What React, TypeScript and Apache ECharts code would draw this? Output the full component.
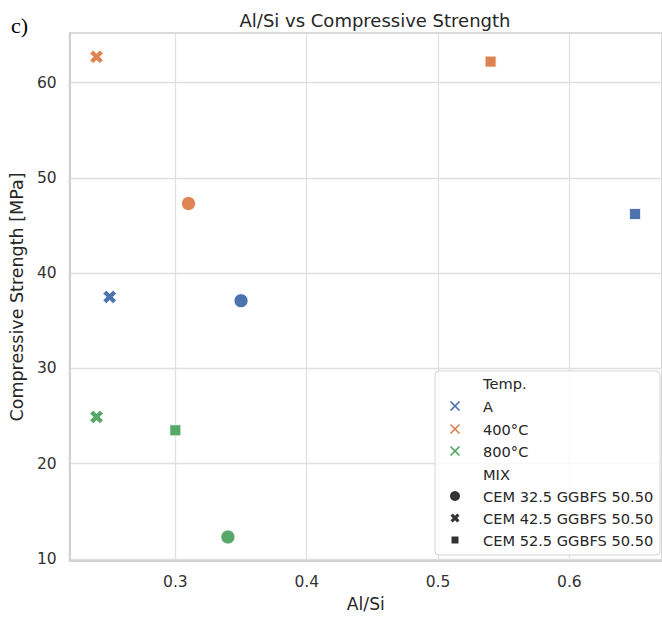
import React, { useEffect, useRef } from 'react';
import * as echarts from 'echarts';

// ---- data ----
const temps = ['A', '400°C', '800°C'];
const mixes = ['CEM 32.5 GGBFS 50.50', 'CEM 42.5 GGBFS 50.50', 'CEM 52.5 GGBFS 50.50'];
// order of values follows mixes
const alSiA = [0.35, 0.25, 0.65];
const strengthA = [37.1, 37.5, 46.2];
const alSi400 = [0.31, 0.24, 0.54];
const strength400 = [47.3, 62.7, 62.2];
const alSi800 = [0.34, 0.24, 0.3];
const strength800 = [12.3, 24.9, 23.5];

const xTicks = [0.3, 0.4, 0.5, 0.6];
const yTicks = [10, 20, 30, 40, 50, 60];

const colors = ['#4C72B0', '#DD8452', '#55A868'];
const FONT = 'DejaVu Sans';
const xPathStr = 'M3,0L4,1L3,2L4,3L3,4L2,3L1,4L0,3L1,2L0,1L1,0L2,1Z';
const mixSymbols = ['circle', 'path://' + xPathStr, 'rect'];
const mixSizes = [14, 13.5, 11];

const xBase = [
  [3, 0], [4, 1], [3, 2], [4, 3], [3, 4], [2, 3], [1, 4], [0, 3], [1, 2], [0, 1], [1, 0], [2, 1],
];

export default function App() {
  const ref = useRef<HTMLDivElement>(null);
  useEffect(() => {
    if (!ref.current) return;
    const chart = echarts.init(ref.current, undefined, { renderer: 'svg' });
    const xs = [alSiA, alSi400, alSi800];
    const ys = [strengthA, strength400, strength800];
    const series = temps.map((t, ti) => ({
      type: 'scatter',
      name: t,
      data: mixes.map((m, mi) => ({
        value: [xs[ti][mi], ys[ti][mi]],
        symbol: mixSymbols[mi],
        symbolSize: mixSizes[mi],
      })),
      itemStyle: { color: colors[ti], borderColor: '#ffffff', borderWidth: 0.8, opacity: 1 },
      z: 5,
    }));

    // legend graphic
    const lx = 455;
    const tx = 483;
    const rowY = [383, 406, 429, 451, 474, 496, 518, 540];
    const textStyle = (s: string, y: number) => ({
      type: 'text',
      x: tx,
      y,
      style: { text: s, fontFamily: FONT, fontSize: 14.6, fill: '#262626', verticalAlign: 'middle', align: 'left' },
      z: 11,
    });
    const g: any[] = [
      {
        type: 'rect',
        shape: { x: 435, y: 371, width: 225, height: 184, r: 4 },
        style: { fill: 'rgba(255,255,255,0.8)', stroke: '#d4d4d4', lineWidth: 1 },
        z: 10,
      },
      textStyle('Temp.', rowY[0]),
      textStyle('MIX', rowY[4]),
    ];
    temps.forEach((t, i) => {
      const y = rowY[1 + i];
      const h = 4.5;
      g.push({ type: 'line', shape: { x1: lx - h, y1: y - h, x2: lx + h, y2: y + h }, style: { stroke: colors[i], lineWidth: 1.7 }, z: 11 });
      g.push({ type: 'line', shape: { x1: lx - h, y1: y + h, x2: lx + h, y2: y - h }, style: { stroke: colors[i], lineWidth: 1.7 }, z: 11 });
      g.push(textStyle(t, y));
    });
    mixes.forEach((m, i) => {
      const y = rowY[5 + i];
      if (i === 0) {
        g.push({ type: 'circle', shape: { cx: lx, cy: y, r: 5 }, style: { fill: '#333333' }, z: 11 });
      } else if (i === 1) {
        const s = 9 / 4;
        g.push({
          type: 'polygon',
          shape: { points: xBase.map(([px, py]) => [lx + (px - 2) * s, y + (py - 2) * s]) },
          style: { fill: '#333333' },
          z: 11,
        });
      } else {
        g.push({ type: 'rect', shape: { x: lx - 3.5, y: y - 3.5, width: 7, height: 7 }, style: { fill: '#333333' }, z: 11 });
      }
      g.push(textStyle(m, y));
    });
    g.push({
      type: 'text',
      x: 11,
      y: 25,
      style: { text: 'c)', fontFamily: 'Liberation Serif', fontSize: 22, fill: '#000', verticalAlign: 'middle' },
    });

    chart.setOption({
      animation: false,
      backgroundColor: '#ffffff',
      title: {
        text: 'Al/Si vs Compressive Strength',
        left: 370,
        top: 6,
        textAlign: 'center',
        textStyle: { fontFamily: FONT, fontSize: 18, fontWeight: 'normal', color: '#262626' },
      },
      grid: {
        left: 69,
        right: -9,
        top: 33,
        bottom: 55,
        show: true,
        borderColor: '#d0d0d0',
        borderWidth: 1.6,
        backgroundColor: 'transparent',
      },
      xAxis: {
        type: 'value',
        min: 0.2195,
        max: 0.6705,
        splitNumber: 5,
        name: 'Al/Si',
        nameLocation: 'middle',
        nameGap: 34,
        nameTextStyle: { fontFamily: FONT, fontSize: 17.2, color: '#262626' },
        axisLine: { show: true, lineStyle: { color: '#d0d0d0', width: 2 } },
        axisTick: { show: false, customValues: xTicks },
        splitLine: { show: true, lineStyle: { color: '#e0e0e0', width: 1.3 } },
        axisLabel: {
          customValues: xTicks,
          margin: 13,
          fontFamily: FONT,
          fontSize: 15.5,
          color: '#333333',
          formatter: (v: number) => v.toFixed(1),
        },
      },
      yAxis: {
        type: 'value',
        min: 9.78,
        max: 65.2,
        splitNumber: 5,
        name: 'Compressive Strength [MPa]',
        nameLocation: 'middle',
        nameGap: 42,
        nameTextStyle: { fontFamily: FONT, fontSize: 17.5, color: '#262626' },
        axisLine: { show: true, lineStyle: { color: '#d0d0d0', width: 2 } },
        axisTick: { show: false, customValues: yTicks },
        splitLine: { show: true, lineStyle: { color: '#e0e0e0', width: 1.3 } },
        axisLabel: {
          customValues: yTicks,
          margin: 13,
          fontFamily: FONT,
          fontSize: 15.5,
          color: '#333333',
          formatter: (v: number) => String(Math.round(v)),
        },
      },
      series,
      graphic: g,
    });
    return () => chart.dispose();
  }, []);
  return (
    <div
      ref={ref}
      style={{ position: 'fixed', left: 0, top: 0, width: 662, height: 617, background: '#fff' }}
    />
  );
}
